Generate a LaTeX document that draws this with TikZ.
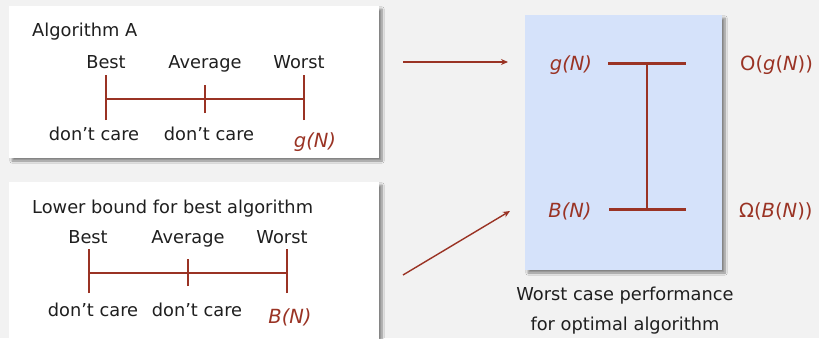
\documentclass[tikz,border=0pt]{standalone}
\usepackage{fontspec}
\setmainfont{DejaVu Sans}
\usetikzlibrary{arrows.meta,shadows.blur}

\definecolor{pagebg}{HTML}{F2F2F2}
\definecolor{boundred}{HTML}{9A3324}
\definecolor{panelblue}{HTML}{D5E2FA}

\tikzset{
  panel/.style={fill=white, draw=none, inner sep=0pt,
    blur shadow={shadow xshift=3pt, shadow yshift=-3pt, shadow blur steps=8, shadow opacity=45}},
  bluepanel/.style={panel, fill=panelblue},
  txt/.style={font=\fontsize{17.8}{20}\selectfont, text=black!88, inner sep=0pt, anchor=base},
  val/.style={font=\fontsize{19.5}{22}\selectfont\itshape, text=boundred, inner sep=0pt, anchor=base},
  tick/.style={draw=boundred, line width=1.4pt},
  bar/.style={draw=boundred, line width=3pt},
  feed/.style={draw=boundred, line width=1.4pt, -{Stealth[length=7pt,width=6pt]}}
}

\begin{document}
\begin{tikzpicture}[x=1pt,y=-1pt]
  \useasboundingbox (0,0) rectangle (819,338);
  \fill[pagebg] (0,0) rectangle (819,338);

  % panel for algorithm A
  \node[panel, minimum width=370pt, minimum height=152pt] (boxA) at (194,82) {};
  \node[txt, anchor=base west] (titleA) at (32,36) {Algorithm A};
  \node[txt] (bestA) at (106,68) {Best};
  \node[txt] (avgA) at (205,68) {Average};
  \node[txt] (worstA) at (299,68) {Worst};
  \coordinate (tA1) at (106,99);
  \coordinate (tA2) at (205,99);
  \coordinate (tA3) at (304,99);
  \draw[tick] (tA1) -- (tA3);
  \draw[tick] ([yshift=-21pt]tA1) -- ([yshift=24pt]tA1);
  \draw[tick] ([yshift=-14pt]tA2) -- ([yshift=14pt]tA2);
  \draw[tick] ([yshift=-21pt]tA3) -- ([yshift=24pt]tA3);
  \node[txt] (dcA1) at (94,140) {don’t care};
  \node[txt] (dcA2) at (209,140) {don’t care};
  \node[val] (gA) at (315,147) {g(N)};

  % panel for the lower bound
  \node[panel, minimum width=370pt, minimum height=160pt] (boxB) at (194,262) {};
  \node[txt, anchor=base west] (titleB) at (32,213) {Lower bound for best algorithm};
  \node[txt] (bestB) at (88,243) {Best};
  \node[txt] (avgB) at (188,243) {Average};
  \node[txt] (worstB) at (282,243) {Worst};
  \coordinate (tB1) at (89,273);
  \coordinate (tB2) at (188,273);
  \coordinate (tB3) at (287,273);
  \draw[tick] (tB1) -- (tB3);
  \draw[tick] ([yshift=-20pt]tB1) -- ([yshift=24pt]tB1);
  \draw[tick] ([yshift=-13pt]tB2) -- ([yshift=14pt]tB2);
  \draw[tick] ([yshift=-20pt]tB3) -- ([yshift=24pt]tB3);
  \node[txt] (dcB1) at (93,316) {don’t care};
  \node[txt] (dcB2) at (197,316) {don’t care};
  \node[val] (bB) at (290,323) {B(N)};

  % worst case range for the optimal algorithm
  \node[bluepanel, minimum width=197pt, minimum height=255pt] (range) at (623.5,142.5) {};
  \node[val] (gR) at (571,70) {g(N)};
  \node[val] (bR) at (570,217) {B(N)};
  \coordinate (gL) at (608,63);
  \coordinate (gRt) at (686,63);
  \coordinate (bL) at (609,209);
  \coordinate (bRt) at (686,209);
  \coordinate (gMid) at (647,63);
  \coordinate (bMid) at (647,209);
  \draw[bar] (gL) -- (gRt);
  \draw[bar] (bL) -- (bRt);
  \draw[tick] (gMid) -- (bMid);
  \node[val, anchor=base west, font=\fontsize{19.5}{22}\selectfont] (bigO) at (740,70) {O(\textit{g}(\textit{N}))};
  \node[val, anchor=base west, font=\fontsize{19.5}{22}\selectfont] (omega) at (739,217) {Ω(\textit{B}(\textit{N}))};
  \node[txt] (cap1) at (625,300) {Worst case performance};
  \node[txt] (cap2) at (625,330) {for optimal algorithm};

  % connectors from the panels to the range
  \coordinate (fromA) at (403,62);
  \coordinate (toA) at (508,62);
  \coordinate (fromB) at (403,275);
  \coordinate (toB) at (510,211);
  \draw[feed] (fromA) -- (toA);
  \draw[feed] (fromB) -- (toB);
\end{tikzpicture}
\end{document}
